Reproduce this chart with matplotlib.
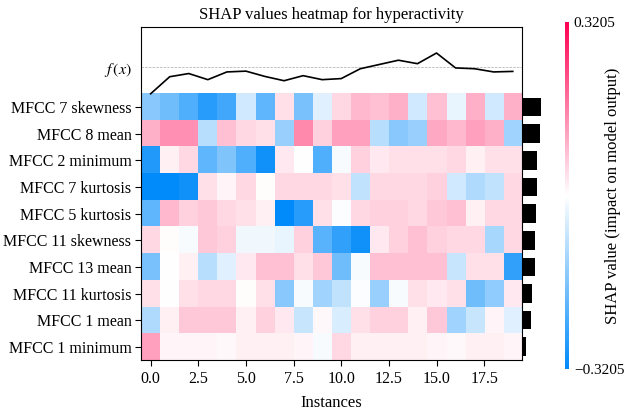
import numpy as np
import matplotlib
matplotlib.use("Agg")
import matplotlib.pyplot as plt
from matplotlib.colors import LinearSegmentedColormap

plt.rcParams["font.family"] = ["Liberation Serif", "DejaVu Serif"]
plt.rcParams["mathtext.fontset"] = "stix"

features = ["MFCC 7 skewness", "MFCC 8 mean", "MFCC 2 minimum", "MFCC 7 kurtosis",
            "MFCC 5 kurtosis", "MFCC 11 skewness", "MFCC 13 mean", "MFCC 11 kurtosis",
            "MFCC 1 mean", "MFCC 1 minimum"]

# SHAP values, one row per feature, one column per instance
shap_vals = np.array([
    [-0.15, -0.18, -0.22, -0.27, -0.24, -0.06, -0.20, 0.04, -0.17, -0.04,
     0.05, 0.09, 0.08, 0.10, -0.06, 0.08, -0.03, 0.10, -0.06, 0.10],
    [0.10, 0.14, 0.14, -0.09, 0.08, 0.05, 0.04, -0.13, 0.15, 0.06,
     0.12, 0.12, -0.09, -0.15, -0.13, 0.11, 0.09, 0.12, 0.10, -0.12],
    [-0.28, 0.02, 0.05, -0.20, -0.16, -0.22, -0.30, 0.03, 0.00, -0.22,
     -0.01, 0.06, 0.03, 0.04, 0.04, 0.04, 0.05, 0.02, 0.04, 0.04],
    [-0.32, -0.32, -0.30, 0.04, 0.015, 0.05, 0.005, 0.05, 0.05, 0.05,
     0.04, -0.08, 0.05, 0.05, 0.05, 0.06, -0.06, -0.10, -0.08, 0.05],
    [-0.20, 0.09, 0.06, 0.07, 0.05, 0.04, 0.02, -0.32, -0.27, 0.04,
     -0.005, 0.05, 0.06, 0.06, 0.05, 0.07, 0.08, 0.02, 0.05, 0.05],
    [0.05, 0.005, -0.01, 0.07, 0.06, -0.02, -0.02, -0.03, 0.06, -0.21,
     -0.26, -0.30, 0.03, 0.06, 0.08, 0.06, 0.05, 0.05, -0.11, 0.05],
    [-0.17, 0.00, 0.02, -0.09, -0.04, 0.03, 0.08, 0.08, 0.04, 0.07,
     -0.18, -0.01, 0.08, 0.08, 0.08, 0.08, -0.07, 0.04, 0.04, -0.26],
    [0.04, 0.00, 0.04, 0.05, 0.05, 0.005, 0.04, -0.15, -0.01, -0.12,
     -0.08, -0.005, -0.13, -0.01, 0.04, 0.03, 0.04, -0.18, -0.14, 0.03],
    [-0.10, 0.02, 0.07, 0.07, 0.07, 0.02, 0.06, 0.03, -0.07, 0.01,
     -0.05, 0.04, 0.06, 0.06, 0.02, 0.07, -0.12, -0.07, 0.015, -0.04],
    [0.12, 0.015, 0.015, 0.015, 0.01, 0.02, 0.02, 0.02, 0.015, -0.01,
     0.05, 0.02, 0.02, 0.02, 0.02, 0.015, 0.01, 0.02, 0.02, 0.015],
])

# model output per instance, normalised by its max |f(x)|
fx = np.array([-1.00, -0.36, -0.24, -0.47, -0.18, -0.15, -0.35, -0.51, -0.32, -0.47,
               -0.43, -0.06, 0.10, 0.26, 0.13, 0.53, -0.03, -0.06, -0.18, -0.16])

vmax = 0.3205
title = "SHAP values heatmap for hyperactivity"

red_blue = LinearSegmentedColormap.from_list(
    "red_blue", [(0.0, 0.543, 0.983), (1, 1, 1), (1.0, 0.0, 0.318)])

nrow, ncol = shap_vals.shape
fig = plt.figure(figsize=(6.3, 4.12), dpi=100)
ax = fig.add_axes([0.224, 0.126, 0.605, 0.808])

ax.imshow(shap_vals, aspect="auto", interpolation="nearest", cmap=red_blue,
          vmin=-vmax, vmax=vmax, extent=(-0.5, ncol - 0.5, nrow - 0.5, -0.5))
ax.axhline(-1.5, color="#aaaaaa", linestyle="--", linewidth=0.5)
ax.plot(np.arange(ncol), -fx / np.abs(fx).max() - 1.5, color="black", linewidth=1.2)

# mean |SHAP| bars to the right of the heatmap
imp = np.abs(shap_vals).mean(1)
bars = ax.barh(np.arange(nrow), imp / imp.max() * ncol / 20, 0.7, left=ncol - 0.5,
               color="black", align="center")
for b in bars:
    b.set_clip_on(False)

ax.set_xlim(-0.5, ncol - 0.5)
ax.set_ylim(nrow - 0.5, -3)
ax.set_yticks([-1.5] + list(range(nrow)))
ax.set_yticklabels(["$f\\,(x)$"] + features, fontsize=11.5)
ax.yaxis.get_major_ticks()[0].tick1line.set_visible(False)
ax.set_xticks(np.arange(0, ncol, 2.5))
ax.tick_params(axis="x", labelsize=11.5, length=4)
ax.tick_params(axis="y", length=4, pad=3)
ax.set_xlabel("Instances", fontsize=12, labelpad=6)
ax.set_title(title, fontsize=12, pad=6)

cax = fig.add_axes([0.897, 0.104, 0.006, 0.843])
sm = plt.cm.ScalarMappable(cmap=red_blue, norm=plt.Normalize(-vmax, vmax))
cb = fig.colorbar(sm, cax=cax, ticks=[-vmax, vmax])
cb.set_ticklabels(["\u22120.3205", "0.3205"])
cb.ax.tick_params(labelsize=11, length=0)
cb.outline.set_visible(False)
cb.set_label("SHAP value (impact on model output)", fontsize=12, labelpad=-14)

fig.savefig("out.png", dpi=100)
